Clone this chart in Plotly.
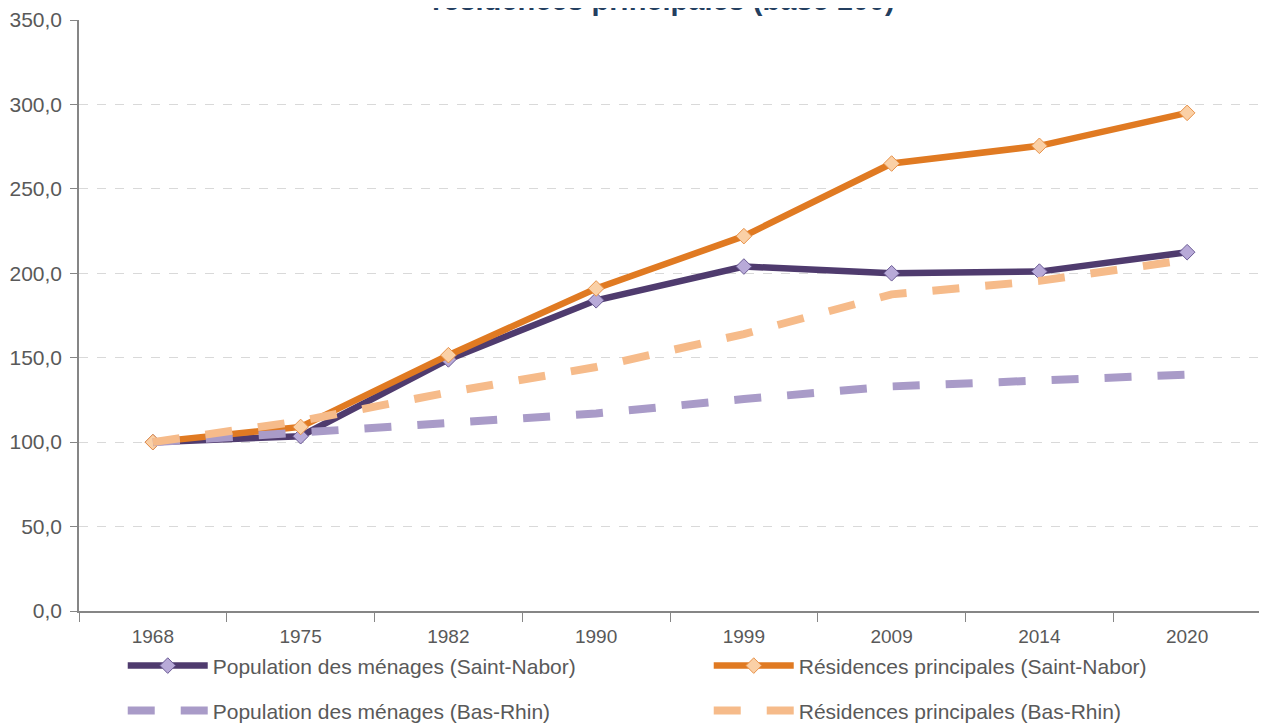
import plotly.graph_objects as go

years = ["1968", "1975", "1982", "1990", "1999", "2009", "2014", "2020"]
pop_sn = [100, 103.5, 149, 184, 204, 200, 201, 212.5]
res_sn = [100, 109, 151.5, 191, 222, 265, 275.5, 295]
pop_br = [100, 105.5, 111.5, 117, 125.5, 133, 136.5, 140]
res_br = [100, 112.5, 129.5, 144.5, 164, 187.5, 195.5, 208]

names = ["Population des ménages (Saint-Nabor)", "Résidences principales (Saint-Nabor)",
         "Population des ménages (Bas-Rhin)", "Résidences principales (Bas-Rhin)"]
title_text = "résidences principales (base 100)"

FONT = "Liberation Sans, Arial, sans-serif"
TXT = "#595959"

fig = go.Figure()
fig.add_trace(go.Scatter(x=years, y=pop_sn, name=names[0], mode="lines+markers",
                         line=dict(color="#4F3B6E", width=6.5),
                         marker=dict(symbol="diamond", size=12, color="#B8AAD8",
                                     line=dict(color="#6A5A94", width=1)),
                         legend="legend"))
fig.add_trace(go.Scatter(x=years, y=res_sn, name=names[1], mode="lines+markers",
                         line=dict(color="#E07A22", width=6.5),
                         marker=dict(symbol="diamond", size=12, color="#FAD0A6",
                                     line=dict(color="#E8924A", width=1)),
                         legend="legend"))
fig.add_trace(go.Scatter(x=years, y=pop_br, name=names[2], mode="lines",
                         line=dict(color="#A99BC8", width=8, dash="27px,26px"),
                         legend="legend2"))
fig.add_trace(go.Scatter(x=years, y=res_br, name=names[3], mode="lines",
                         line=dict(color="#F6BB8A", width=8, dash="27px,26px"),
                         legend="legend2"))

fig.add_annotation(text="<b>" + title_text + "</b>", xref="paper", yref="paper",
                   x=0.4948, y=1.004, xanchor="center", yanchor="bottom", showarrow=False,
                   font=dict(family=FONT, size=29, color="#243F60"))

legend_common = dict(orientation="h", xanchor="left", yanchor="middle",
                     font=dict(family=FONT, size=21, color=TXT),
                     itemwidth=80, entrywidth=491, entrywidthmode="pixels",
                     bgcolor="rgba(0,0,0,0)", traceorder="normal")

# page has an 8px body margin: figure is offset by (8, 8)
fig.update_layout(
    width=1259, height=720,
    margin=dict(l=71, r=6, t=12, b=117, autoexpand=False),
    paper_bgcolor="white", plot_bgcolor="white",
    separators=", ",
    showlegend=True,
    legend=dict(x=0.037, y=-0.093, **legend_common),
    legend2=dict(x=0.037, y=-0.169, **legend_common),
    font=dict(family=FONT, color=TXT),
)
fig.update_xaxes(type="category", range=[-0.5, 7.5], showline=True, linecolor="#868686", linewidth=1.5,
                 ticks="outside", ticklen=9, tickcolor="#868686", tickson="boundaries",
                 showgrid=False, automargin=False, ticklabelstandoff=7,
                 tickfont=dict(family=FONT, size=19, color=TXT))
fig.update_yaxes(range=[0, 350], dtick=50, tickformat=".1f", showline=True, linecolor="#868686",
                 linewidth=1.5, ticks="outside", ticklen=7, tickcolor="#868686",
                 showgrid=True, gridcolor="#D9D9D9", gridwidth=1, griddash="dash",
                 zeroline=False, ticklabelstandoff=4, automargin=False,
                 tickfont=dict(family=FONT, size=21, color=TXT))

fig.write_html("out.html")
